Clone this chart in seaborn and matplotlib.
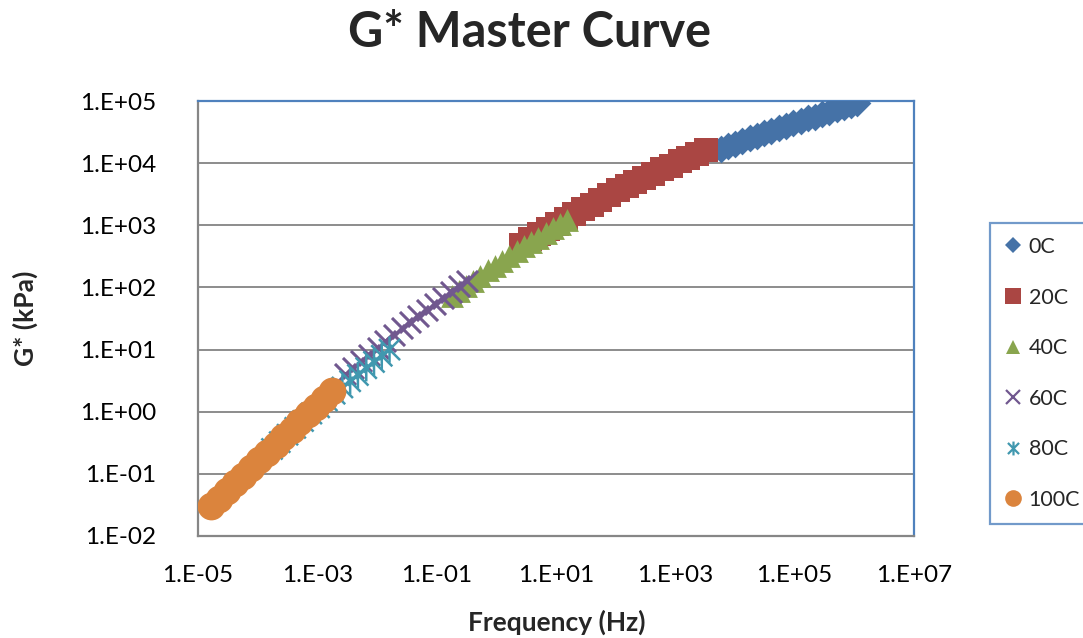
import numpy as np
import pandas as pd
import seaborn as sns
import matplotlib.pyplot as plt
from matplotlib.path import Path
from matplotlib.lines import Line2D

# %% DATA (log10 of reduced frequency in Hz, log10 of G* in kPa)
temps = ['0C', '20C', '40C', '60C', '80C', '100C']

logf_0C = [3.76, 3.88, 4.00, 4.12, 4.25, 4.37, 4.49, 4.61, 4.73, 4.85, 4.98, 5.10,
           5.22, 5.34, 5.46, 5.58, 5.71, 5.83, 5.95, 6.05]
logg_0C = [4.23, 4.27, 4.31, 4.35, 4.40, 4.44, 4.48, 4.52, 4.56, 4.60, 4.64, 4.68,
           4.72, 4.75, 4.79, 4.83, 4.87, 4.90, 4.93, 4.96]

logf_20C = [0.42, 0.57, 0.71, 0.86, 1.01, 1.16, 1.30, 1.45, 1.60, 1.74, 1.89, 2.04,
            2.19, 2.33, 2.48, 2.63, 2.77, 2.92, 3.07, 3.22, 3.36, 3.51]
logg_20C = [2.69, 2.78, 2.86, 2.94, 3.02, 3.10, 3.18, 3.26, 3.33, 3.41, 3.48, 3.56,
            3.63, 3.69, 3.76, 3.83, 3.90, 3.96, 4.03, 4.09, 4.15, 4.21]

logf_40C = [-0.75, -0.63, -0.51, -0.39, -0.27, -0.14, -0.02, 0.10, 0.22, 0.34, 0.46,
            0.58, 0.70, 0.83, 0.95, 1.07, 1.19]
logg_40C = [1.87, 1.95, 2.03, 2.11, 2.19, 2.28, 2.35, 2.43, 2.51, 2.58, 2.66, 2.73,
            2.80, 2.88, 2.95, 3.02, 3.09]

logf_60C = [-2.54, -2.40, -2.27, -2.13, -1.99, -1.86, -1.72, -1.58, -1.44, -1.31,
            -1.17, -1.03, -0.90, -0.76, -0.62, -0.49]
logg_60C = [0.60, 0.71, 0.81, 0.92, 1.03, 1.13, 1.24, 1.34, 1.44, 1.54, 1.64, 1.74,
            1.83, 1.93, 2.03, 2.11]

logf_80C = [-3.76, -3.63, -3.50, -3.37, -3.24, -3.10, -2.97, -2.84, -2.71, -2.58,
            -2.45, -2.32, -2.18, -2.05, -1.92, -1.79]
logg_80C = [-0.60, -0.49, -0.37, -0.26, -0.15, -0.03, 0.07, 0.18, 0.29, 0.39, 0.49,
            0.59, 0.70, 0.80, 0.90, 1.00]

logf_100C = [-4.78, -4.65, -4.51, -4.38, -4.24, -4.11, -3.97, -3.84, -3.70, -3.57,
             -3.43, -3.30, -3.16, -3.03, -2.89, -2.76]
logg_100C = [-1.52, -1.40, -1.27, -1.15, -1.03, -0.91, -0.78, -0.66, -0.53, -0.41,
             -0.29, -0.17, -0.04, 0.08, 0.21, 0.33]

logf = [logf_0C, logf_20C, logf_40C, logf_60C, logf_80C, logf_100C]
logg = [logg_0C, logg_20C, logg_40C, logg_60C, logg_80C, logg_100C]

frames = []
for t, lf, lg in zip(temps, logf, logg):
    frames.append(pd.DataFrame({'Temp': t, 'Freq': 10.0 ** np.array(lf), 'Gstar': 10.0 ** np.array(lg)}))
df = pd.concat(frames, ignore_index=True)

# %% STYLE
sns.set_style('white')
plt.rcParams['font.family'] = ['Lato', 'DejaVu Sans']

cores = {'0C': '#4572A7', '20C': '#AA4643', '40C': '#89A54E',
         '60C': '#71588F', '80C': '#4198AF', '100C': '#DB843D'}

# asterisco estilo Excel: X + linha vertical
asterisco = Path([(-1, -1), (1, 1), (-1, 1), (1, -1), (0, -1.25), (0, 1.25)],
                 [Path.MOVETO, Path.LINETO, Path.MOVETO, Path.LINETO, Path.MOVETO, Path.LINETO])

marcadores = {'0C': 'D', '20C': 's', '40C': '^', '60C': 'x', '80C': asterisco, '100C': 'o'}
tamanhos = {'0C': 200, '20C': 280, '40C': 270, '60C': 230, '80C': 360, '100C': 400}

fig = plt.figure(figsize=(10.83, 6.38), dpi=100)
ax = fig.add_axes([198 / 1083, 102 / 638, 716 / 1083, 435 / 638])

for t in temps:
    sub = df[df['Temp'] == t]
    kws = dict(x='Freq', y='Gstar', data=sub, ax=ax, s=tamanhos[t], marker=marcadores[t],
               legend=False, zorder=3)
    if t == '60C':
        sns.scatterplot(color=cores[t], linewidth=2.2, **kws)
    elif t == '80C':
        sns.scatterplot(color=cores[t], facecolor='none', edgecolor=cores[t], linewidth=1.8, **kws)
    else:
        sns.scatterplot(color=cores[t], edgecolor=cores[t], linewidth=0, **kws)

ax.set_xscale('log')
ax.set_yscale('log')
ax.set_xlim(1e-5, 1e7)
ax.set_ylim(1e-2, 1e5)
ax.set_xticks(10.0 ** np.arange(-5, 8, 2))
ax.set_yticks(10.0 ** np.arange(-2, 6))
ax.minorticks_off()
fmt = lambda v, pos: f"1.E{int(round(np.log10(v))):+03d}"
ax.xaxis.set_major_formatter(plt.FuncFormatter(fmt))
ax.yaxis.set_major_formatter(plt.FuncFormatter(fmt))
ax.tick_params(axis='both', length=0, labelsize=17.5, colors='black')
ax.tick_params(axis='y', pad=30)
ax.tick_params(axis='x', pad=21)
ax.set_xlabel('')
ax.set_ylabel('')

ax.yaxis.grid(True, color='#8c8c8c', linewidth=1.4)
ax.xaxis.grid(False)
ax.set_axisbelow(True)
for lado in ['left', 'bottom']:
    ax.spines[lado].set_color('#868686')
    ax.spines[lado].set_linewidth(1.6)
for lado in ['top', 'right']:
    ax.spines[lado].set_color('#4F81BD')
    ax.spines[lado].set_linewidth(1.6)

# %% TEXTOS
fig.text(530 / 1083, 1 - 47 / 638, 'G* Master Curve', ha='center', va='baseline',
         fontsize=35, fontweight='bold')
fig.text(557 / 1083, 1 - 631 / 638, 'Frequency (Hz)', ha='center', va='baseline',
         fontsize=19, fontweight='bold')
fig.text(25 / 1083, 320 / 638, 'G* (kPa)', ha='center', va='center', rotation=90,
         fontsize=19, fontweight='bold')

# %% LEGENDA
msz = {'0C': 8, '20C': 11, '40C': 10, '60C': 10, '80C': 10, '100C': 12}
handles = []
for t in temps:
    if t in ['60C', '80C']:
        h = Line2D([], [], linestyle='none', marker=marcadores[t], markersize=msz[t],
                   markeredgecolor=cores[t], markerfacecolor='none', markeredgewidth=1.6)
    else:
        h = Line2D([], [], linestyle='none', marker=marcadores[t], markersize=msz[t],
                   color=cores[t], markeredgewidth=0)
    handles.append(h)
leg = fig.legend(handles, temps, loc='upper left', bbox_to_anchor=(990 / 1083, 1 - 223 / 638),
                 fontsize=15.5, frameon=True, fancybox=False, borderaxespad=0,
                 handlelength=0.8, handletextpad=0.35, labelspacing=1.42, borderpad=0.65)
leg.get_frame().set_edgecolor('#4F81BD')
leg.get_frame().set_linewidth(1.6)

plt.savefig('out.png', dpi=100)
